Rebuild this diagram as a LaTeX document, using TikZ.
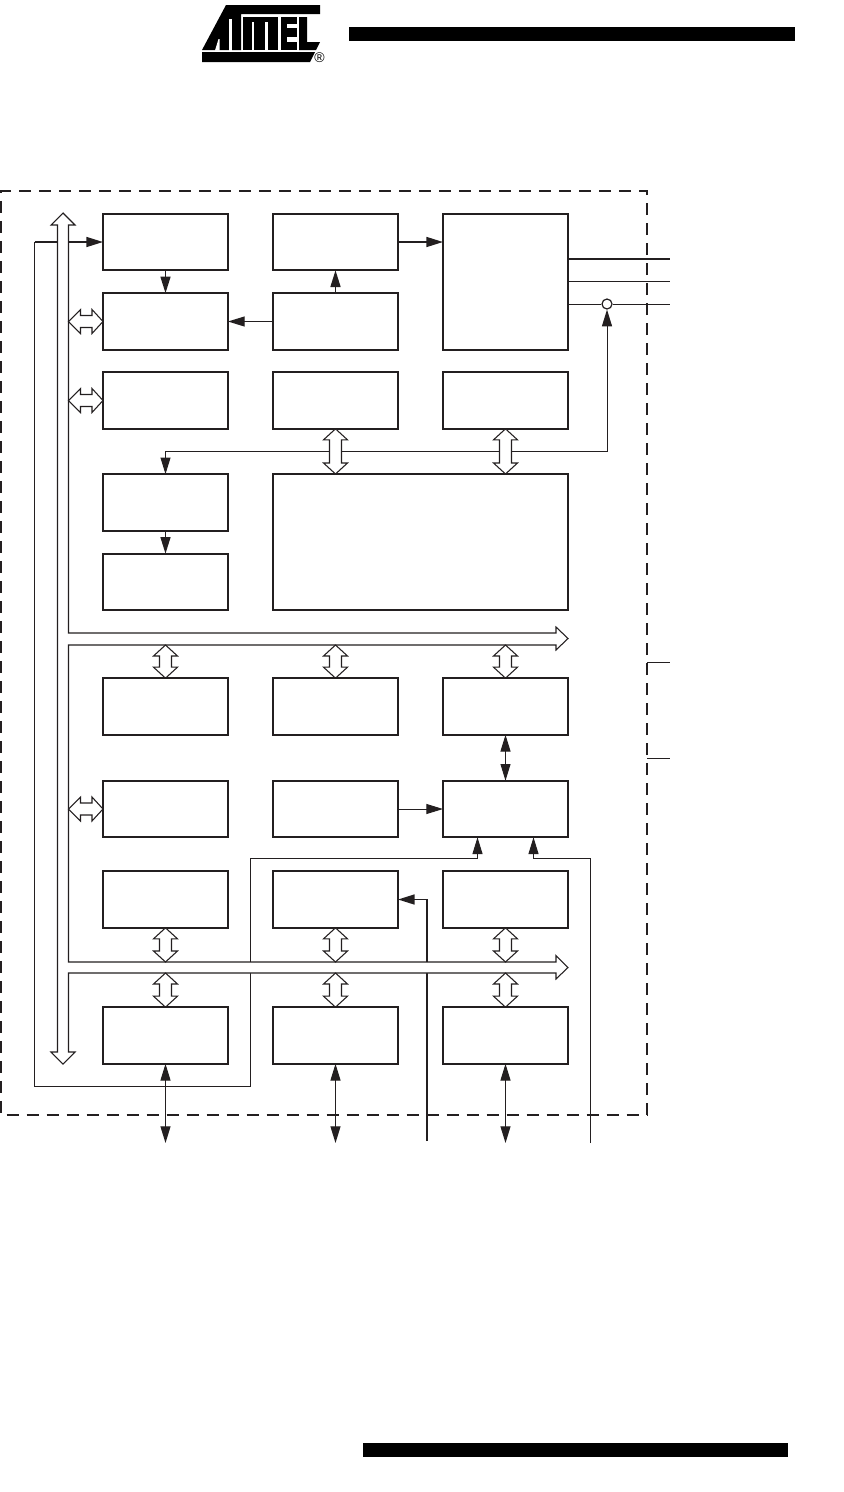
\documentclass[tikz,border=0pt]{standalone}
\usepackage{fontspec}
\setmainfont{Liberation Sans}
\usetikzlibrary{arrows.meta,calc}
\definecolor{ink}{HTML}{231F20}
\tikzset{
  unit box/.style={draw=ink,line width=1.3pt,fill=white,minimum width=93.75pt,minimum height=42.5pt,inner sep=0pt,outer sep=0pt},
  frame/.style={draw=ink,line width=1.5pt,dash pattern=on 9pt off 6pt},
  wire/.style={draw=ink,line width=.75pt},
  heavy wire/.style={draw=ink,line width=1.2pt},
  flow/.style={wire,-{Triangle[length=12.5pt,width=7.5pt,color=ink]}},
  heavy flow/.style={heavy wire,-{Triangle[length=12.5pt,width=7.5pt,color=ink]}},
  duplex/.style={wire,{Triangle[length=12.5pt,width=7.5pt,color=ink]}-{Triangle[length=12.5pt,width=7.5pt,color=ink]}},
  block/.style={draw=ink,line width=.8pt,fill=white,line join=miter},
  logo/.style={fill=black,draw=none},
  logo gap/.style={fill=white,draw=none},
}
\newcommand{\vblock}[2]{\draw[block] (#1) -- ($(#1)+(12,11)$) -- ($(#1)+(6,11)$) -- ($(#2)+(6,-11)$) -- ($(#2)+(12,-11)$) -- (#2) -- ($(#2)+(-12,-11)$) -- ($(#2)+(-6,-11)$) -- ($(#1)+(-6,11)$) -- ($(#1)+(-12,11)$) -- cycle;}
\newcommand{\hblock}[2]{\draw[block] (#1) -- ($(#1)+(12,-12)$) -- ($(#1)+(12,-6)$) -- ($(#2)+(-11,-6)$) -- ($(#2)+(-11,-12)$) -- (#2) -- ($(#2)+(-11,12)$) -- ($(#2)+(-11,6)$) -- ($(#1)+(12,6)$) -- ($(#1)+(12,12)$) -- cycle;}
\begin{document}
\begin{tikzpicture}[x=.75pt,y=-.75pt]
\useasboundingbox (0,0) rectangle (843,1492);
% header and footer bars
\fill[black] (349,27) rectangle (795,41);
\fill[black] (363,1443) rectangle (788,1457);
% logo
\fill[logo] (202,50) -- (226,5) -- (320,5) -- (320,14) -- (241,14) -- (241,50) -- cycle;
\fill[logo gap] (229,19) rectangle (232,50.5);
\fill[logo gap] (215,50.5) -- (218.5,39) -- (219.5,39) -- (219.5,50.5) -- cycle;
\fill[logo] (243,17) rectangle (278,50);
\fill[logo gap] (252,22) rectangle (254,50.5);
\fill[logo gap] (265,22) rectangle (268,50.5);
\fill[logo] (281,17) rectangle (297,50);
\fill[logo gap] (287,23.5) rectangle (297.5,28);
\fill[logo gap] (287,37) rectangle (297.5,42);
\fill[logo] (299,17) -- (307,17) -- (307,42) -- (320,42) -- (316,50) -- (299,50) -- cycle;
\fill[logo] (202,52) -- (315,52) -- (310,62) -- (202,62) -- cycle;
\node[inner sep=0pt,font=\fontsize{10.5}{10.5}\selectfont] (regmark) at (319.5,57.5) {\textregistered};
% named anchors for free ends
\coordinate (o1) at (670,259);
\coordinate (o2) at (670,281);
\coordinate (o3) at (670,304);
\coordinate (e1) at (670,662);
\coordinate (e2) at (670,758);
\coordinate (f1) at (647,662);
\coordinate (f2) at (647,758);
\coordinate (p1) at (165.5,1143);
\coordinate (p2) at (335.5,1143);
\coordinate (p3) at (427,1141);
\coordinate (p4) at (505.5,1143);
\coordinate (p5) at (590.5,1143);
\coordinate (busa) at (0,645);
\coordinate (busb) at (0,962);
\coordinate (busc) at (0,973);
\coordinate (busd) at (68.5,0);
\coordinate (r0) at (34.5,1086);
\coordinate (r1) at (250,1086);
\coordinate (r2) at (250,858);
\coordinate (fork) at (165.5,451);
% boxes
\node[unit box] (a1) at (165.5,242) {};
\node[unit box] (a2) at (335.5,242) {};
\node[unit box,minimum height=102pt] (osc) at (505.5,282) {};
\node[unit box] (b1) at (165.5,321.5) {};
\node[unit box] (b2) at (335.5,321.5) {};
\node[unit box] (c1) at (165.5,400.5) {};
\node[unit box] (c2) at (335.5,400.5) {};
\node[unit box] (c3) at (505.5,400.5) {};
\node[unit box] (d1) at (165.5,502.5) {};
\node[unit box] (e5) at (165.5,582) {};
\node[unit box,minimum width=221.25pt,minimum height=102pt] (mem) at (420.5,542) {};
\node[unit box] (g1) at (165.5,706.5) {};
\node[unit box] (g2) at (335.5,706.5) {};
\node[unit box] (g3) at (505.5,706.5) {};
\node[unit box] (h1) at (165.5,809) {};
\node[unit box] (h2) at (335.5,809) {};
\node[unit box] (h3) at (505.5,809) {};
\node[unit box] (i1) at (165.5,899.5) {};
\node[unit box] (i2) at (335.5,899.5) {};
\node[unit box] (i3) at (505.5,899.5) {};
\node[unit box] (j1) at (165.5,1035.5) {};
\node[unit box] (j2) at (335.5,1035.5) {};
\node[unit box] (j3) at (505.5,1035.5) {};
\node[circle,draw=ink,line width=.9pt,fill=white,minimum size=7.5pt,inner sep=0pt] (sw) at (607,304) {};
% wires under the buses
\draw[heavy wire] (osc.east |- o1) -- (o1);
\draw[wire] (osc.east |- o2) -- (o2);
\draw[wire] (osc.east |- o3) -- (sw.west);
\draw[wire] (sw.east) -- (o3);
\draw[wire] (f1) -- (e1);
\draw[wire] (f2) -- (e2);
\draw[flow] (fork) -- (d1.north);
\draw[flow] (fork) -| (sw.south);
\draw[heavy flow] (a1.south) -- (b1.north);
\draw[heavy flow] (a2.east) -- (osc.west |- a2.east);
\draw[heavy flow] (b2.north) -- (a2.south);
\draw[flow] (b2.west) -- (b1.east);
\draw[heavy flow] (d1.south) -- (e5.north);
\draw[duplex] (g3.south) -- (h3.north);
\draw[flow] (h2.east) -- (h3.west);
\draw[heavy flow] (p3) |- (i2.east);
\draw[flow] (p5) |- ($(h3.south)+(28,21)$) -- ($(h3.south)+(28,0)$);
\draw[wire] (r2) -- (r1) -- (r0) -- (r0 |- a1.west);
\draw[heavy flow] (r0 |- a1.west) -- (a1.west);
\draw[flow] (r2) -| ($(h3.south)+(-28,0)$);
\draw[duplex] (j1.south) -- (p1);
\draw[duplex] (j2.south) -- (p2);
\draw[duplex] (j3.south) -- (p4);
% main bus
\draw[block] (63,213) -- (75,225) -- (68.5,225) -- (68.5,633) -- (556,633) -- (556,627) -- (568,638.5) -- (556,650) -- (556,645) -- (68.5,645) -- (68.5,962) -- (556,962) -- (556,955.5) -- (568,967.5) -- (556,979) -- (556,973) -- (68.5,973) -- (68.5,1052) -- (75,1052) -- (63,1064) -- (51,1052) -- (57.5,1052) -- (57.5,225) -- (51,225) -- cycle;
% bus taps
\hblock{busd |- b1.west}{b1.west}
\hblock{busd |- c1.west}{c1.west}
\hblock{busd |- h1.west}{h1.west}
\vblock{c2.south}{mem.north -| c2.south}
\vblock{c3.south}{mem.north -| c3.south}
\vblock{g1.north |- busa}{g1.north}
\vblock{g2.north |- busa}{g2.north}
\vblock{g3.north |- busa}{g3.north}
\vblock{i1.south}{i1.south |- busb}
\vblock{i2.south}{i2.south |- busb}
\vblock{i3.south}{i3.south |- busb}
\vblock{j1.north |- busc}{j1.north}
\vblock{j2.north |- busc}{j2.north}
\vblock{j3.north |- busc}{j3.north}
% boundary
\draw[frame] (647,1115) -- (647,191) -- (0.8,191) -- (0.8,1115) -- cycle;
\end{tikzpicture}
\end{document}
